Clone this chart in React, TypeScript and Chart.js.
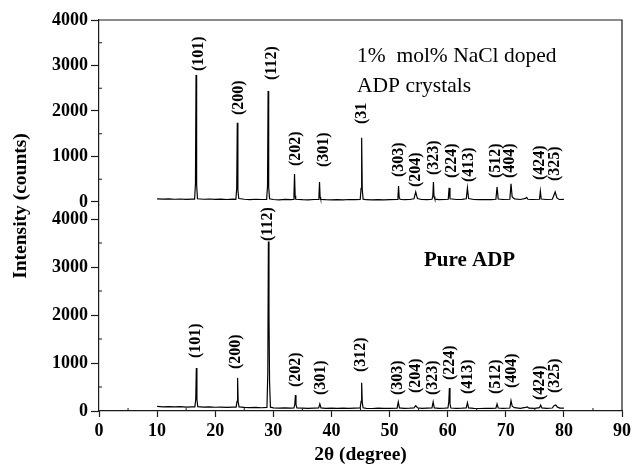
import React, { useEffect, useRef } from "react";
import { Chart, registerables } from "chart.js";

Chart.register(...registerables);

// 2θ (degree), intensity (counts) — 1 mol% NaCl doped ADP (top panel)
const dopedPattern: [number, number][] = [
  [10, 70], [11, 62], [12, 68], [13, 60], [14, 66], [15, 58], [16, 64], [16.45, 62],
  [16.6, 400], [16.7, 2790], [16.8, 380], [16.95, 70], [18, 60], [19, 66], [20, 58],
  [21, 64], [22, 55], [23, 62], [23.55, 60], [23.7, 300], [23.8, 1740], [23.9, 260],
  [24.05, 75], [25, 60], [26, 52], [27, 60], [28, 55], [28.85, 58], [29.0, 350],
  [29.1, 2440], [29.2, 330], [29.35, 70], [30, 55], [31, 48], [32, 56], [33, 50],
  [33.45, 55], [33.55, 150], [33.65, 615], [33.75, 140], [33.85, 60], [35, 52], [36, 48],
  [37, 55], [37.75, 55], [37.85, 120], [37.95, 440], [38.05, 110], [38.15, 58], [39, 50],
  [40, 46], [41, 52], [42, 48], [43, 55], [44, 50], [44.95, 55], [45.1, 300], [45.2, 1410],
  [45.3, 280], [45.45, 62], [46, 50], [47, 45], [48, 52], [49, 48], [50, 52], [51.3, 55],
  [51.45, 120], [51.55, 350], [51.65, 110], [51.8, 60], [52.5, 50], [53.5, 55], [54.2, 70],
  [54.5, 220], [54.8, 75], [55.5, 55], [56.5, 50], [57.3, 60], [57.45, 130], [57.55, 440],
  [57.65, 120], [57.8, 62], [58.5, 52], [59.5, 55], [60.1, 60], [60.25, 310], [60.4, 70],
  [61.5, 55], [62.5, 58], [63.2, 70], [63.4, 310], [63.6, 75], [64.5, 55], [65.5, 50],
  [66.5, 55], [67.5, 52], [68.3, 60], [68.5, 330], [68.7, 65], [69.5, 55], [70.7, 60],
  [70.9, 400], [71.1, 110], [71.5, 70], [72.5, 55], [73.4, 80], [73.6, 100], [73.8, 60],
  [74.5, 55], [75.8, 60], [75.95, 240], [76.1, 65], [77, 55], [78, 60], [78.2, 120],
  [78.5, 220], [78.8, 90], [79.2, 55], [80, 58],
];

// 2θ (degree), intensity (counts) — pure ADP (bottom panel)
const purePattern: [number, number][] = [
  [10, 95], [11, 88], [12, 92], [13, 85], [14, 90], [15, 82], [16, 86], [16.5, 85],
  [16.65, 250], [16.75, 896], [16.85, 240], [17.0, 90], [18, 80], [19, 84], [20, 78],
  [21, 82], [22, 75], [23, 80], [23.6, 80], [23.75, 200], [23.85, 690], [23.95, 190],
  [24.1, 85], [25, 75], [26, 70], [27, 74], [28, 68], [28.9, 75], [29.05, 800],
  [29.15, 3530], [29.25, 2000], [29.35, 600], [29.5, 80], [30, 65], [31, 60], [32, 64],
  [33, 58], [33.55, 62], [33.7, 150], [33.8, 330], [33.9, 130], [34.05, 62], [35, 58],
  [36, 55], [37, 60], [37.8, 62], [38.0, 146], [38.2, 65], [39, 56], [40, 58], [41, 54],
  [42, 58], [43, 55], [44, 60], [44.95, 65], [45.1, 200], [45.2, 590], [45.3, 180],
  [45.45, 68], [46, 56], [47, 52], [48, 58], [49, 54], [50, 56], [51.3, 60], [51.5, 188],
  [51.7, 65], [52.5, 55], [53.5, 58], [54.2, 65], [54.5, 110], [54.8, 68], [55.5, 55],
  [56.5, 58], [57.3, 62], [57.5, 188], [57.7, 65], [58.5, 55], [59.5, 58], [60.05, 62],
  [60.2, 200], [60.3, 479], [60.4, 150], [60.55, 62], [61.5, 55], [62.5, 58], [63.2, 65],
  [63.4, 173], [63.6, 65], [64.5, 55], [65.5, 52], [66.5, 56], [67.5, 54], [68.3, 60],
  [68.5, 146], [68.7, 62], [69.5, 55], [70.7, 62], [70.9, 215], [71.1, 100], [71.5, 70],
  [72.5, 56], [73.4, 75], [73.7, 85], [74, 60], [75, 56], [75.8, 70], [76.0, 125],
  [76.2, 65], [77, 56], [78, 62], [78.3, 110], [78.6, 125], [78.9, 80], [79.3, 60], [80, 58],
];

// Peak (hkl) labels: text, 2θ position, intensity where the label starts
const dopedLabels = ["(101)", "(200)", "(112)", "(202)", "(301)", "(31", "(303)", "(204)", "(323)", "(224)", "(413)", "(512)", "(404)", "(424)", "(325)"];
const dopedLabelX = [17.2, 24.1, 29.8, 33.8, 38.7, 45.2, 51.6, 54.5, 57.7, 60.8, 63.7, 68.3, 70.7, 75.8, 78.5];
const dopedLabelY = [2879, 1912, 2681, 791, 769, 1714, 550, 330, 593, 527, 440, 527, 527, 483, 462];

const pureLabels = ["(101)", "(200)", "(112)", "(202)", "(301)", "(312)", "(303)", "(204)", "(323)", "(224)", "(413)", "(512)", "(404)", "(424)", "(325)"];
const pureLabelX = [16.7, 23.6, 29.0, 33.8, 38.2, 45.1, 51.4, 54.5, 57.4, 60.45, 63.5, 68.3, 71.0, 75.8, 78.5];
const pureLabelY = [1104, 875, 3541, 500, 333, 812, 333, 375, 333, 646, 354, 354, 479, 229, 375];

const xTickValues = [0, 10, 20, 30, 40, 50, 60, 70, 80, 90];
const xMinorTicks = [5, 15, 25, 35, 45, 55, 65, 75, 85];
const yTickValues = [0, 1000, 2000, 3000, 4000];
const yMinorTicks = [500, 1500, 2500, 3500];

const SERIF = '"Liberation Serif", "Times New Roman", serif';
const AXIS_COLOR = "#1a1a1a";

export default function App() {
  const canvasRef = useRef<HTMLCanvasElement | null>(null);

  useEffect(() => {
    const canvas = canvasRef.current;
    if (!canvas) return;

    const decorPlugin = {
      id: "decor",
      afterDatasetsDraw(chart: any) {
        const { ctx, chartArea, scales } = chart;
        const xs = scales.x;
        const yP = scales.yPure;
        const yD = scales.yDoped;
        ctx.save();
        // frame (top and right)
        ctx.strokeStyle = AXIS_COLOR;
        ctx.lineWidth = 1.2;
        ctx.beginPath();
        ctx.moveTo(chartArea.left, chartArea.top);
        ctx.lineTo(chartArea.right, chartArea.top);
        ctx.lineTo(chartArea.right, chartArea.bottom);
        ctx.stroke();
        // minor ticks
        ctx.lineWidth = 1;
        ctx.beginPath();
        for (const v of yMinorTicks) {
          for (const s of [yP, yD]) {
            const py = s.getPixelForValue(v);
            ctx.moveTo(chartArea.left, py);
            ctx.lineTo(chartArea.left + 3, py);
          }
        }
        for (const v of xMinorTicks) {
          const px = xs.getPixelForValue(v);
          ctx.moveTo(px, chartArea.bottom);
          ctx.lineTo(px, chartArea.bottom - 3);
        }
        ctx.stroke();

        // peak labels
        ctx.fillStyle = "#000";
        ctx.font = `bold 16px ${SERIF}`;
        ctx.textAlign = "left";
        ctx.textBaseline = "middle";
        const drawLabels = (texts: string[], xsv: number[], ysv: number[], ys: any) => {
          texts.forEach((t, i) => {
            const px = xs.getPixelForValue(xsv[i]);
            const py = ys.getPixelForValue(ysv[i]);
            ctx.save();
            ctx.translate(px, py);
            ctx.rotate(-Math.PI / 2);
            ctx.fillText(t, 0, 0);
            ctx.restore();
          });
        };
        drawLabels(dopedLabels, dopedLabelX, dopedLabelY, yD);
        drawLabels(pureLabels, pureLabelX, pureLabelY, yP);

        // annotations
        ctx.textBaseline = "alphabetic";
        ctx.font = `21.5px ${SERIF}`;
        ctx.fillText("1%  mol% NaCl doped", chartArea.left + 258, chartArea.top + 42);
        ctx.fillText("ADP crystals", chartArea.left + 258, chartArea.top + 72);
        ctx.font = `bold 21px ${SERIF}`;
        ctx.fillText("Pure ADP", chartArea.left + 325, chartArea.top + 246);

        // y-axis title
        ctx.font = `bold 19.5px ${SERIF}`;
        ctx.textAlign = "center";
        ctx.textBaseline = "middle";
        ctx.save();
        ctx.translate(21, chartArea.top + 186);
        ctx.rotate(-Math.PI / 2);
        ctx.fillText("Intensity (counts)", 0, 0);
        ctx.restore();
        ctx.restore();
      },
    };

    const yCommon = (weight: number, min: number, max: number) => ({
      type: "linear" as const,
      position: "left" as const,
      stack: "panels",
      stackWeight: weight,
      min,
      max,
      afterBuildTicks: (scale: any) => {
        scale.ticks = yTickValues.map((v) => ({ value: v }));
      },
      afterFit: (scale: any) => {
        scale.width = 99;
      },
      ticks: {
        color: "#000",
        font: { family: SERIF, size: 18, weight: "bold" as const },
        padding: 3,
        autoSkip: false,
        callback: (v: any) => String(v),
      },
      grid: {
        drawOnChartArea: false,
        drawTicks: true,
        tickLength: 8,
        tickColor: AXIS_COLOR,
        tickWidth: 1.2,
      },
      border: { display: true, color: AXIS_COLOR, width: 1.2 },
    });

    const chart = new Chart(canvas, {
      type: "line",
      data: {
        datasets: [
          {
            label: "Pure ADP",
            data: purePattern.map(([x, y]) => ({ x, y })),
            yAxisID: "yPure",
            borderColor: "#000",
            borderWidth: 1.2,
            pointRadius: 0,
            tension: 0,
            fill: false,
          },
          {
            label: "1 mol% NaCl doped ADP",
            data: dopedPattern.map(([x, y]) => ({ x, y })),
            yAxisID: "yDoped",
            borderColor: "#000",
            borderWidth: 1.2,
            pointRadius: 0,
            tension: 0,
            fill: false,
          },
        ],
      },
      options: {
        responsive: false,
        animation: false,
        devicePixelRatio: 1,
        layout: { padding: { top: 20, right: 9, left: 0, bottom: 0 } },
        plugins: {
          legend: { display: false },
          tooltip: { enabled: false },
        },
        scales: {
          x: {
            type: "linear",
            position: "bottom",
            min: 0,
            max: 90,
            afterBuildTicks: (scale: any) => {
              scale.ticks = xTickValues.map((v) => ({ value: v }));
            },
            afterFit: (scale: any) => {
              scale.height = 63;
            },
            ticks: {
              color: "#000",
              font: { family: SERIF, size: 18, weight: "bold" },
              padding: 4,
              maxRotation: 0,
              autoSkip: false,
              callback: (v: any) => String(v),
            },
            grid: {
              drawOnChartArea: false,
              drawTicks: true,
              tickLength: 6,
              tickColor: AXIS_COLOR,
              tickWidth: 1.2,
            },
            border: { display: true, color: AXIS_COLOR, width: 1.2 },
            title: {
              display: true,
              text: "2θ (degree)",
              color: "#000",
              font: { family: SERIF, size: 19.5, weight: "bold" },
              padding: { top: 0, bottom: 7 },
            },
          },
          yPure: yCommon(206, 0, 4292),
          yDoped: yCommon(185, -66, 4000),
        },
      },
      plugins: [decorPlugin],
    } as any);

    return () => chart.destroy();
  }, []);

  return (
    <div style={{ position: "absolute", left: 0, top: 0, width: 635, height: 474, background: "#fff" }}>
      <canvas ref={canvasRef} width={635} height={474} />
    </div>
  );
}
